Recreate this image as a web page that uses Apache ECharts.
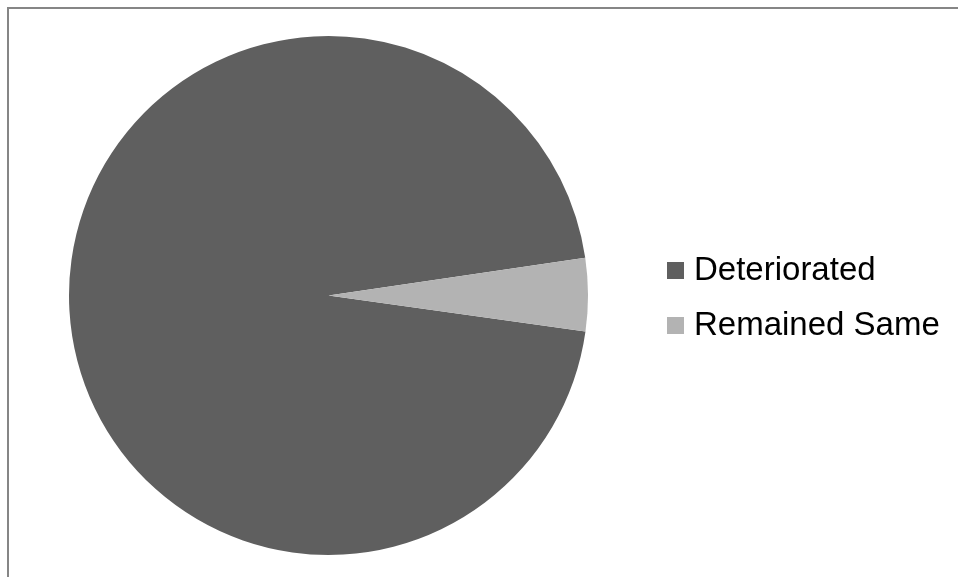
<!DOCTYPE html>
<html>
<head>
<meta charset="utf-8">
<script src="https://cdn.jsdelivr.net/npm/echarts@6/dist/echarts.min.js"></script>
<style>html,body{margin:0;padding:0;background:#fff;}#c{width:958px;height:577px;}</style>
</head>
<body>
<div id="c"></div>
<script>
const categories = ['Deteriorated', 'Remained Same'];
const values = [21, 1];
const colors = ['#5f5f5f', '#b3b3b3'];

const chart = echarts.init(document.getElementById('c'), null, {renderer: 'canvas'});
chart.setOption({
  animation: false,
  backgroundColor: '#ffffff',
  graphic: [{
    type: 'rect',
    shape: {x: 8, y: 8, width: 1000, height: 1000},
    style: {fill: 'none', stroke: '#868686', lineWidth: 2},
    silent: true
  }],
  legend: {
    orient: 'vertical',
    left: 662,
    top: 249,
    itemWidth: 17,
    itemHeight: 17,
    itemGap: 22,
    icon: 'rect',
    data: categories,
    textStyle: {
      fontFamily: 'Liberation Sans, Arial, sans-serif',
      fontSize: 33,
      lineHeight: 33,
      color: '#000',
      padding: [0, 0, 0, 5]
    }
  },
  series: [{
    type: 'pie',
    center: [328.5, 295.5],
    radius: [0, 259.5],
    startAngle: -8,
    clockwise: true,
    label: {show: false},
    labelLine: {show: false},
    itemStyle: {borderWidth: 0},
    emphasis: {disabled: true},
    data: categories.map((n, i) => ({name: n, value: values[i], itemStyle: {color: colors[i]}}))
  }]
});
</script>
</body>
</html>
